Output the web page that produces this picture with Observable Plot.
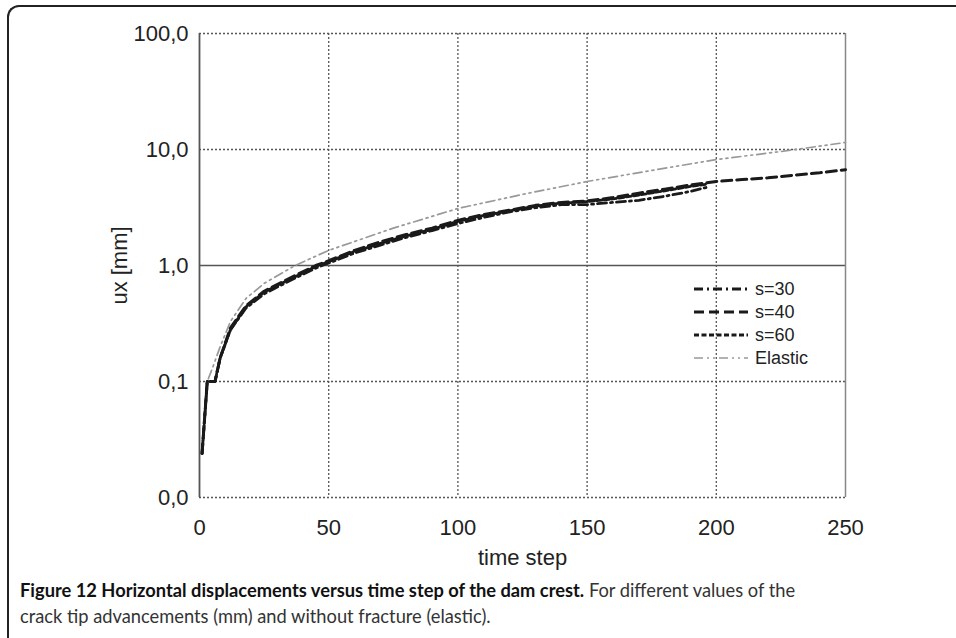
<!DOCTYPE html>
<html>
<head>
<meta charset="utf-8">
<script src="https://cdn.jsdelivr.net/npm/d3@7"></script>
<script src="https://cdn.jsdelivr.net/npm/@observablehq/plot@0.6"></script>
<style>
  html, body { margin: 0; padding: 0; background: #fff; }
  #wrap { position: relative; width: 956px; height: 638px; overflow: hidden; font-family: "Liberation Sans", Arial, sans-serif; }
  #frame { position: absolute; left: 7px; top: 5px; width: 1000px; height: 700px; border-top: 2px solid #222; border-left: 2px solid #222; border-top-left-radius: 12px; box-sizing: border-box; }
  #chart { position: absolute; left: 0; top: 0; }
  #legend { position: absolute; left: 688px; top: 278px; }
  #caption { position: absolute; left: 20px; top: 577px; width: 930px; font-family: Lato, "Open Sans", sans-serif; font-size: 18.3px; line-height: 26px; color: #333; white-space: nowrap; }
  #caption b { color: #111; }
</style>
</head>
<body>
<div id="wrap">
  <div id="frame"></div>
  <div id="chart"></div>
  <div id="legend"></div>
  <div id="caption"><div><b>Figure 12 Horizontal displacements versus time step of the dam crest.</b> <span>For different values of the</span></div><div>crack tip advancements (mm) and without fracture (elastic).</div></div>
</div>
<script>
const xTicks = [0, 50, 100, 150, 200, 250];
const yTicks = [0.01, 0.1, 1, 10, 100];

const tS = [1, 3, 6, 8, 12, 18, 25, 37, 45, 50, 60, 70, 80, 90, 100, 110, 120, 130, 140, 150, 160, 170, 180, 190, 196];
const s30 = [0.024, 0.1, 0.1, 0.16, 0.28, 0.43, 0.57, 0.78, 0.95, 1.05, 1.28, 1.5, 1.75, 2.0, 2.3, 2.6, 2.9, 3.15, 3.35, 3.35, 3.5, 3.65, 3.95, 4.35, 4.7];
const s60 = [0.024, 0.1, 0.1, 0.16, 0.28, 0.44, 0.59, 0.8, 0.98, 1.08, 1.32, 1.55, 1.8, 2.05, 2.4, 2.7, 2.95, 3.25, 3.45, 3.55, 3.75, 4.05, 4.4, 4.8, 5.0];
const t40 = [1, 3, 6, 8, 12, 18, 25, 37, 45, 50, 60, 70, 80, 90, 100, 110, 120, 130, 140, 150, 160, 170, 180, 190, 200, 210, 220, 230, 240, 250];
const s40 = [0.024, 0.1, 0.1, 0.16, 0.29, 0.45, 0.6, 0.82, 1.0, 1.1, 1.35, 1.6, 1.85, 2.1, 2.45, 2.75, 3.0, 3.3, 3.5, 3.6, 3.85, 4.2, 4.55, 4.95, 5.3, 5.5, 5.7, 6.0, 6.3, 6.7];
const tE = [1, 3, 5, 8, 12, 18, 25, 37, 50, 75, 100, 125, 150, 175, 200, 225, 250];
const elastic = [0.024, 0.1, 0.13, 0.2, 0.33, 0.52, 0.7, 1.0, 1.35, 2.1, 3.1, 4.1, 5.3, 6.6, 8.2, 9.6, 11.5];

const seriesNames = ["s=30", "s=40", "s=60", "Elastic"];
const styles = {
  "s=30": {stroke: "#1a1a1a", dash: "9,4,2,4", width: 2.8},
  "s=40": {stroke: "#1a1a1a", dash: "10,5", width: 3},
  "s=60": {stroke: "#1a1a1a", dash: "5,2.5", width: 2.8},
  "Elastic": {stroke: "#999", dash: "9,4,2,4,2,4", width: 1.7}
};

const mk = (ts, vs) => ts.map((t, i) => ({t, v: vs[i]}));
const data = {
  "s=30": mk(tS, s30),
  "s=40": mk(t40, s40),
  "s=60": mk(tS, s60),
  "Elastic": mk(tE, elastic)
};

const fmt = d => d.toFixed(1).replace(".", ",");

const chart = Plot.plot({
  width: 956,
  height: 575,
  marginLeft: 199,
  marginRight: 111,
  marginTop: 33,
  marginBottom: 78,
  style: {fontFamily: "'Liberation Sans', Arial, sans-serif", fontSize: "22px", color: "#222", background: "transparent"},
  x: {domain: [0, 250], ticks: xTicks},
  y: {type: "log", domain: [0.01, 100], ticks: yTicks},
  marks: [
    Plot.ruleX(xTicks.slice(1, -1), {stroke: "#555", strokeWidth: 1.3, strokeDasharray: "2,2"}),
    Plot.ruleY([0.01, 0.1, 10, 100], {stroke: "#555", strokeWidth: 1.3, strokeDasharray: "2,2"}),
    Plot.ruleY([1], {stroke: "#555", strokeWidth: 1.6}),
    Plot.ruleX([0], {stroke: "#555", strokeWidth: 1.8}),
    Plot.ruleX([250], {stroke: "#888", strokeWidth: 1.5}),
    ...seriesNames.slice().reverse().map(n => Plot.line(data[n], {
      x: "t", y: "v", stroke: styles[n].stroke, strokeWidth: styles[n].width,
      strokeDasharray: styles[n].dash, curve: "linear"
    })),
    Plot.axisX({ticks: xTicks, tickSize: 0, tickPadding: 22, fontSize: 22, label: "time step", labelAnchor: "center", labelArrow: "none", labelOffset: 67}),
    Plot.axisY({ticks: yTicks, tickSize: 0, tickPadding: 11, tickFormat: fmt, fontSize: 22, label: "ux [mm]", labelAnchor: "center", labelArrow: "none", labelOffset: 88})
  ]
});
document.getElementById("chart").appendChild(chart);

// legend overlay
const lg = d3.select("#legend").append("svg").attr("width", 130).attr("height", 90);
seriesNames.forEach((n, i) => {
  const y = 11 + i * 23;
  lg.append("line").attr("x1", 6).attr("x2", 60).attr("y1", y).attr("y2", y)
    .attr("stroke", styles[n].stroke).attr("stroke-width", styles[n].width)
    .attr("stroke-dasharray", styles[n].dash);
  lg.append("text").attr("x", 67).attr("y", y + 6).text(n)
    .attr("font-family", "'Liberation Sans', Arial, sans-serif").attr("font-size", 18).attr("fill", "#222");
});
</script>
</body>
</html>
